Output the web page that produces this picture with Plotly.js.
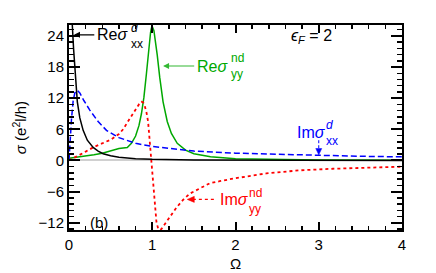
<!DOCTYPE html>
<html><head><meta charset="utf-8">
<script src="https://cdn.plot.ly/plotly-3.0.1.min.js"></script>
<style>html,body{margin:0;padding:0;background:#fff}#c{width:436px;height:273px}</style>
</head><body><div id="c"></div>
<script>
// Re sigma_xx^d (black)
const reXX_x = [0,0.02,0.04,0.055,0.07,0.085,0.1,0.13,0.17,0.22,0.29,0.35,0.41,0.5,0.6,0.8,1,1.5,2,3,4];
const reXX_y = [32,29.5,26,21.5,17.5,14,11.3,8.2,5.8,3.9,2.5,1.8,1.3,0.9,0.6,0.35,0.22,0.1,0.06,0.03,0.015];
// Im sigma_xx^d (blue dashed)
const imXX_x = [0,0.01,0.02,0.03,0.05,0.07,0.1,0.13,0.18,0.25,0.35,0.45,0.6,0.8,1,1.25,1.5,2,2.5,3,3.5,4];
const imXX_y = [0,3,6,8,11.5,13,13.5,13,11.5,9.7,7.5,5.8,4.4,3.3,2.7,2.2,1.8,1.4,1.15,1.0,0.8,0.7];
// Re sigma_yy^nd (green)
const reYY_x = [0,0.2,0.3,0.4,0.5,0.6,0.7,0.75,0.8,0.84,0.87,0.9,0.93,0.95,0.97,0.98,0.99,1.0,1.02,1.04,1.06,1.09,1.13,1.18,1.23,1.3,1.4,1.5,1.7,2.0,2.5,3,4];
const reYY_y = [0.4,0.8,1.1,1.4,1.8,2.3,2.5,3.3,4.7,6.7,9.0,12.2,16.7,20.2,23.5,24.7,25.5,25.8,25.0,23.0,20.3,16.0,11.3,7.5,5.2,3.3,2.0,1.3,0.7,0.34,0.15,0.085,0.04];
// Im sigma_yy^nd (red dotted)
const imYY_x = [0,0.1,0.2,0.3,0.4,0.5,0.6,0.65,0.7,0.75,0.8,0.84,0.87,0.89,0.91,0.93,0.95,0.97,0.99,1.01,1.03,1.05,1.07,1.09,1.11,1.14,1.19,1.24,1.29,1.37,1.45,1.57,1.69,1.81,1.97,2.37,2.77,3.17,3.5,4];
const imYY_y = [0,0.8,1.7,2.6,3.3,4.0,5.1,6.0,7.3,8.6,9.8,10.8,11.3,11.2,10.5,9.3,7.5,3.5,-0.5,-4.5,-9,-11.8,-13.1,-13.4,-13.2,-12.5,-11.4,-10.2,-9.1,-7.6,-6.4,-5.4,-4.4,-4.0,-3.5,-2.5,-1.9,-1.6,-1.4,-1.2];

const xTicks = [0,1,2,3,4];
const yTicks = [-12,-6,0,6,12,18,24];

const F = 'Liberation Sans, Arial, sans-serif';
const traces = [
  {x: reYY_x, y: reYY_y, mode:'lines', line:{color:'#00a800', width:1.5}},
  {x: imYY_x, y: imYY_y, mode:'lines', line:{color:'#ff0000', width:1.8, dash:'dot'}},
  {x: imXX_x, y: imXX_y, mode:'lines', line:{color:'#0000ff', width:1.5, dash:'6px,3px'}},
  {x: reXX_x, y: reXX_y, mode:'lines', line:{color:'#000000', width:1.5}}
];

function supsub(x, y, sup, sub, color) {
  return [
    {x:x, y:y, xref:'x', yref:'y', text:sup, showarrow:false, xanchor:'left', yanchor:'bottom', yshift:-1, borderpad:0, font:{family:F, size:12, color:color}},
    {x:x, y:y, xref:'x', yref:'y', text:sub, showarrow:false, xanchor:'left', yanchor:'top', yshift:-1, borderpad:0, font:{family:F, size:12, color:color}}
  ];
}

const annotations = [].concat(
  [{x:0.06, y:24.2, ax:0.52, ay:24.2, xref:'x', yref:'y', axref:'x', ayref:'y', text:'Re<i>σ</i>', showarrow:true,
    arrowhead:2, arrowsize:1, arrowwidth:1.2, arrowcolor:'#000', standoff:0, startstandoff:1, font:{family:F, size:16, color:'#000'}}],
  supsub(0.73, 24.2, '<i>d</i>', 'xx', '#000'),
  [{x:1.13, y:18.2, ax:1.72, ay:18.2, xref:'x', yref:'y', axref:'x', ayref:'y', text:'Re<i>σ</i>', showarrow:true,
    arrowhead:2, arrowsize:1, arrowwidth:1.2, arrowcolor:'#33b833', standoff:0, startstandoff:1, font:{family:F, size:16, color:'#00a800'}}],
  supsub(1.93, 18.3, 'nd', 'yy', '#00a800'),
  [{x:2.72, y:5.4, xref:'x', yref:'y', text:'Im<i>σ</i>', showarrow:false, xanchor:'left', yanchor:'middle', font:{family:F, size:16, color:'#0000ff'}}],
  supsub(3.08, 5.4, '<i>d</i>', 'xx', '#0000ff'),
  [{x:1.79, y:-7.6, xref:'x', yref:'y', text:'Im<i>σ</i>', showarrow:false, xanchor:'left', yanchor:'middle', font:{family:F, size:16, color:'#ff0000'}}],
  supsub(2.15, -7.6, 'nd', 'yy', '#ff0000'),
  [
    {x:2.64, y:23.8, xref:'x', yref:'y', text:'<i>ϵ</i><sub><i>F</i></sub> = 2', showarrow:false, xanchor:'left', yanchor:'middle', font:{family:F, size:16, color:'#000'}},
    {x:0.23, y:-12, xref:'x', yref:'y', text:'(b)', showarrow:false, xanchor:'left', yanchor:'middle', font:{family:F, size:15, color:'#000'}}
  ]
);

const shapes = [
  {type:'line', xref:'x', yref:'y', x0:3.0, x1:3.0, y0:3.9, y1:1.9, line:{color:'#0000ff', width:1, dash:'3px,2px'}},
  {type:'path', xref:'x', yref:'y', path:'M 3.0 1.1 L 2.964 2.3 L 3.036 2.3 Z', fillcolor:'#0000ff', line:{color:'#0000ff', width:0.5}},
  {type:'line', xref:'x', yref:'y', x0:1.74, x1:1.5, y0:-7.5, y1:-7.5, line:{color:'#ff0000', width:1.2, dash:'dot'}},
  {type:'path', xref:'x', yref:'y', path:'M 1.42 -7.5 L 1.505 -6.92 L 1.505 -8.08 Z', fillcolor:'#ff0000', line:{color:'#ff0000', width:0.5}}
];

const axisCommon = {
  showgrid:false, zeroline:false, showline:true, linecolor:'#000', linewidth:2, mirror:'allticks',
  ticks:'inside', tickwidth:2, tickcolor:'#000',
  tickfont:{family:F, size:15, color:'#000'}
};

const layout = {
  width:436, height:273, margin:{l:69, r:34, t:25, b:43},
  paper_bgcolor:'#fff', plot_bgcolor:'#fff', showlegend:false,
  xaxis: Object.assign({}, axisCommon, {range:[0,4], tickvals:xTicks, ticktext:xTicks.map(String), ticklen:8,
    minor:{dtick:0.2, tick0:0, ticks:'inside', ticklen:4, tickwidth:1.5, tickcolor:'#000'},
    title:{text:'Ω', font:{family:F, size:15, color:'#000'}, standoff:6}}),
  yaxis: Object.assign({}, axisCommon, {range:[-13.4,26.1], tickvals:yTicks, ticktext:yTicks.map(v=>v<0?'−'+Math.abs(v):String(v)), ticklen:11,
    minor:{dtick:1.2, tick0:0, ticks:'inside', ticklen:5, tickwidth:1.5, tickcolor:'#000'},
    zeroline:true, zerolinecolor:'#d0d0d0', zerolinewidth:2,
    title:{text:'<i>σ</i> (e<sup>2</sup>l/h)', font:{family:F, size:15, color:'#000'}, standoff:8}}),
  annotations: annotations, shapes: shapes
};

Plotly.newPlot('c', traces, layout, {displayModeBar:false, staticPlot:true});
</script></body></html>
